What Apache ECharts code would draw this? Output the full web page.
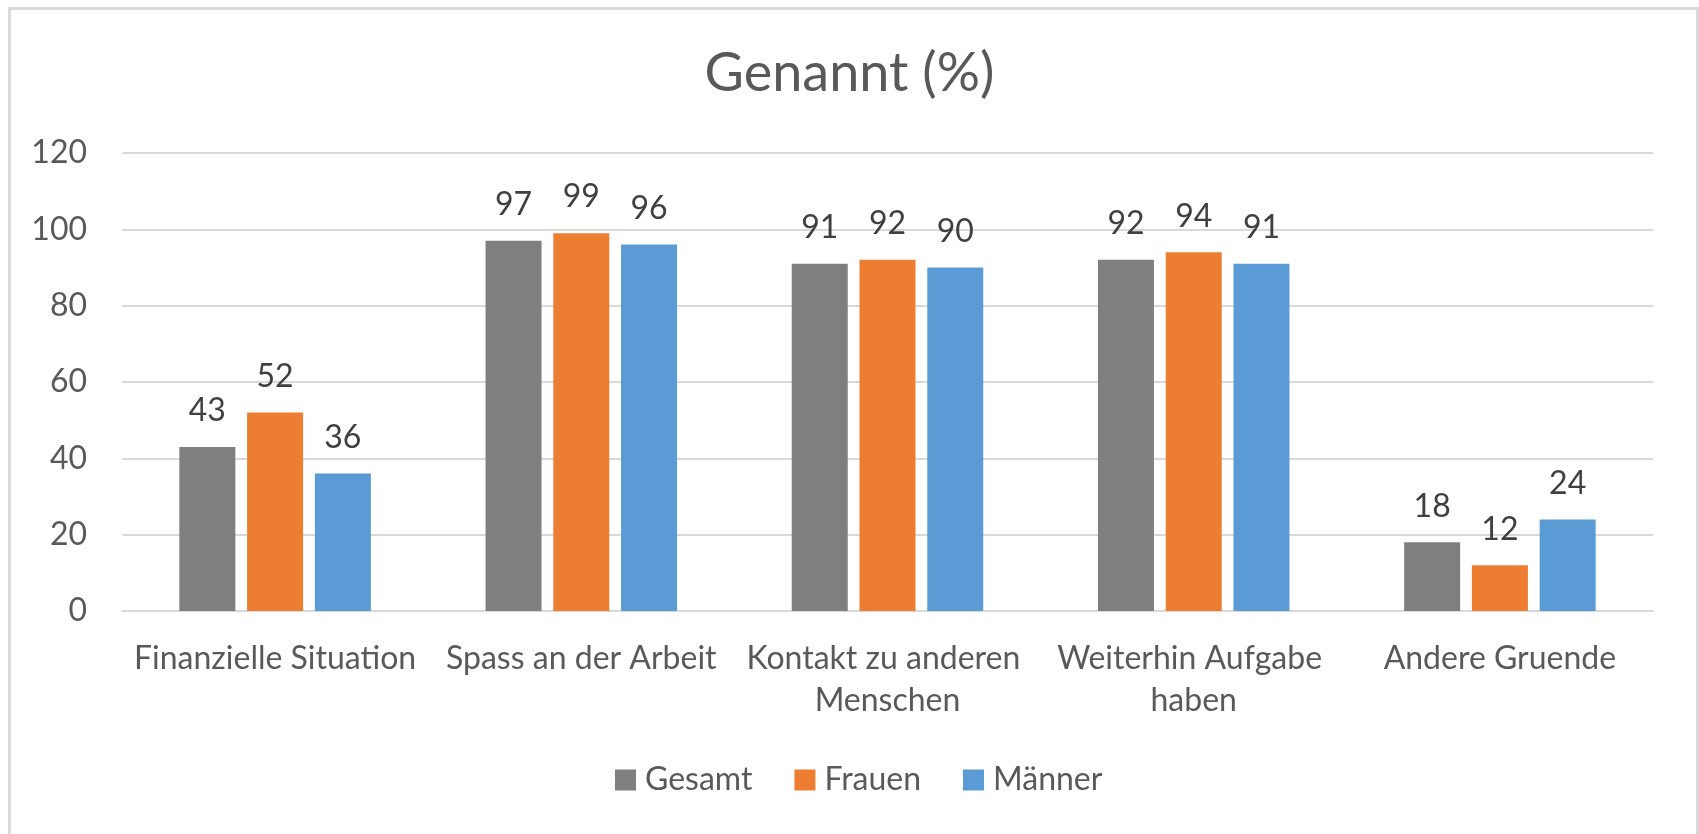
<!DOCTYPE html>
<html>
<head>
<meta charset="utf-8">
<title>Genannt (%)</title>
<script src="https://cdn.jsdelivr.net/npm/echarts@6/dist/echarts.min.js"></script>
<style>
  html, body { margin: 0; padding: 0; background: #fff; }
  #chart { width: 1699px; height: 834px; }
</style>
</head>
<body>
<div id="chart"></div>
<script>
// data
var categories = ['Finanzielle Situation', 'Spass an der Arbeit', 'Kontakt zu anderen Menschen', 'Weiterhin Aufgabe haben', 'Andere Gruende'];
var seriesNames = ['Gesamt', 'Frauen', 'Männer'];
var gesamt = [43, 97, 91, 92, 18];
var frauen = [52, 99, 92, 94, 12];
var maenner = [36, 96, 90, 91, 24];
var yTicks = [0, 20, 40, 60, 80, 100, 120];

var FONT = 'Lato';
var colors = ['#7f7f7f', '#ed7d31', '#5b9bd5'];

var makeSeries = function(name, values, color) {
    return {
        name: name,
        type: 'bar',
        data: values,
        barWidth: 56,
        barGap: '21%',
        itemStyle: { color: color },
        label: {
            show: true,
            position: 'top',
            distance: 20,
            color: '#404040',
            fontFamily: FONT,
            fontSize: 32
        }
    };
};

var chart = echarts.init(document.getElementById('chart'));
var option = {
    animation: false,
    color: colors,
    title: {
        text: 'Genannt (%)',
        left: 'center',
        top: 42,
        textStyle: { fontFamily: FONT, fontSize: 54, fontWeight: 'normal', color: '#595959' }
    },
    legend: {
        data: seriesNames,
        left: 610,
        top: 759,
        icon: 'rect',
        itemWidth: 21,
        itemHeight: 21,
        itemGap: 42,
        textStyle: { fontFamily: FONT, fontSize: 32, color: '#595959', padding: [0, 0, 0, 4] }
    },
    grid: { left: 122, right: 46, top: 153, bottom: 223, containLabel: false },
    xAxis: {
        type: 'category',
        data: categories,
        axisLine: { lineStyle: { color: '#d9d9d9', width: 2 } },
        axisTick: { show: false },
        axisLabel: {
            interval: 0,
            margin: 27,
            width: 300,
            overflow: 'break',
            lineHeight: 42,
            fontFamily: FONT,
            fontSize: 32,
            color: '#595959'
        }
    },
    yAxis: {
        type: 'value',
        min: yTicks[0],
        max: yTicks[yTicks.length - 1],
        interval: yTicks[1] - yTicks[0],
        axisLine: { show: false },
        axisTick: { show: false },
        splitLine: { lineStyle: { color: '#d9d9d9', width: 2 } },
        axisLabel: { margin: 35, fontFamily: FONT, fontSize: 32, color: '#595959' }
    },
    // outer chart frame, bottom edge is cut off in the original
    graphic: [{
        type: 'rect',
        left: 7,
        top: 6,
        shape: { width: 1688, height: 860 },
        style: { fill: 'none', stroke: '#d9d9d9', lineWidth: 3 },
        silent: true
    }],
    series: [
        makeSeries(seriesNames[0], gesamt, colors[0]),
        makeSeries(seriesNames[1], frauen, colors[1]),
        makeSeries(seriesNames[2], maenner, colors[2])
    ]
};
chart.setOption(option);
</script>
</body>
</html>
